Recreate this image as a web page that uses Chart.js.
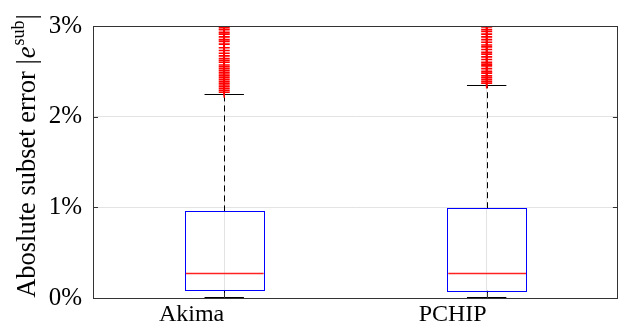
<!DOCTYPE html>
<html>
<head>
<meta charset="utf-8">
<script src="https://cdn.jsdelivr.net/npm/chart.js@4"></script>
<style>
  html, body { margin: 0; padding: 0; background: #fff; }
</style>
</head>
<body>
<canvas id="boxChart" width="625" height="324"></canvas>
<script>
// values in percent
var categories = ['Akima', 'PCHIP'];
var lowerWhisker = [0.0, 0.0];
var q1 = [0.08, 0.08];
var median = [0.28, 0.28];
var q3 = [0.955, 0.99];
var upperWhisker = [2.245, 2.345];
var outliersAkima = [2.27, 2.29, 2.31, 2.33, 2.35, 2.37, 2.39, 2.41, 2.43, 2.45, 2.47, 2.49, 2.51, 2.53,
  2.55, 2.57, 2.60, 2.62, 2.64, 2.67, 2.70, 2.73, 2.76, 2.80, 2.83, 2.85, 2.88, 2.91, 2.93, 2.96, 2.98, 3.0];
var outliersPchip = [2.37, 2.39, 2.41, 2.43, 2.45, 2.48, 2.50, 2.53, 2.56, 2.58, 2.60, 2.63, 2.66, 2.69,
  2.71, 2.74, 2.77, 2.79, 2.82, 2.85, 2.88, 2.91, 2.94, 2.96, 2.99, 3.0];
var yTicks = [0, 1, 2, 3];

var serif = 'Liberation Serif, Times New Roman, Times, serif';
var boxHalf = 0.15, capHalf = 0.075;

var outlierPoints = [];
outliersAkima.forEach(function (v) { outlierPoints.push({x: 1, y: v}); });
outliersPchip.forEach(function (v) { outlierPoints.push({x: 2, y: v}); });

var boxPlugin = {
  id: 'boxes',
  beforeDatasetsDraw: function (chart) {
    var ctx = chart.ctx, xs = chart.scales.x, ys = chart.scales.y;
    ctx.save();
    for (var i = 0; i < categories.length; i++) {
      var c = i + 1;
      var xl = xs.getPixelForValue(c - boxHalf), xr = xs.getPixelForValue(c + boxHalf);
      var xm = Math.round(xs.getPixelForValue(c)) + 0.5;
      var cl = xs.getPixelForValue(c - capHalf), cr = xs.getPixelForValue(c + capHalf);
      // whiskers
      ctx.strokeStyle = '#000';
      ctx.lineWidth = 1;
      ctx.setLineDash([6, 4]);
      ctx.beginPath();
      ctx.moveTo(xm, ys.getPixelForValue(q3[i]));
      ctx.lineTo(xm, ys.getPixelForValue(upperWhisker[i]));
      ctx.moveTo(xm, ys.getPixelForValue(q1[i]));
      ctx.lineTo(xm, ys.getPixelForValue(lowerWhisker[i]));
      ctx.stroke();
      ctx.setLineDash([]);
      var yu = Math.round(ys.getPixelForValue(upperWhisker[i])) + 0.5;
      var ylw = Math.round(ys.getPixelForValue(lowerWhisker[i])) - 0.5;
      ctx.beginPath();
      ctx.moveTo(cl, yu); ctx.lineTo(cr, yu);
      ctx.moveTo(cl, ylw); ctx.lineTo(cr, ylw);
      ctx.stroke();
      // box
      ctx.strokeStyle = '#0000ff';
      var yt = ys.getPixelForValue(q3[i]), yb = ys.getPixelForValue(q1[i]);
      ctx.strokeRect(Math.round(xl) + 0.5, Math.round(yt) + 0.5, Math.round(xr - xl), Math.round(yb - yt));
      // median
      ctx.strokeStyle = '#ff2020';
      ctx.lineWidth = 1.4;
      var ymed = Math.round(ys.getPixelForValue(median[i])) + 0.5;
      ctx.beginPath();
      ctx.moveTo(xl + 1, ymed); ctx.lineTo(xr, ymed);
      ctx.stroke();
    }
    ctx.restore();
  },
  afterDraw: function (chart) {
    var ctx = chart.ctx, a = chart.chartArea, ys = chart.scales.y, xs = chart.scales.x;
    ctx.save();
    // frame
    ctx.strokeStyle = '#333';
    ctx.lineWidth = 1;
    ctx.strokeRect(Math.round(a.left) + 0.5, Math.round(a.top) + 0.5,
      Math.round(a.right - a.left) - 1, Math.round(a.bottom - a.top));
    // inward ticks
    ctx.beginPath();
    yTicks.forEach(function (t) {
      var y = Math.round(ys.getPixelForValue(t)) + 0.5;
      ctx.moveTo(a.left, y); ctx.lineTo(a.left + 5, y);
      ctx.moveTo(a.right - 5, y); ctx.lineTo(a.right, y);
    });
    for (var c = 1; c <= categories.length; c++) {
      var x = Math.round(xs.getPixelForValue(c)) + 0.5;
      ctx.moveTo(x, a.bottom); ctx.lineTo(x, a.bottom - 5);
    }
    ctx.stroke();
    // y title with superscript
    ctx.translate(28, 156);
    ctx.rotate(-Math.PI / 2);
    ctx.fillStyle = '#000';
    ctx.textBaseline = 'middle';
    ctx.textAlign = 'left';
    var main = 'Aboslute subset error |';
    ctx.font = '26.5px ' + serif;
    var w1 = ctx.measureText(main).width;
    ctx.font = 'italic 26.5px ' + serif;
    var w2 = ctx.measureText('e').width;
    ctx.font = '18px ' + serif;
    var w3 = ctx.measureText('sub').width;
    ctx.font = '26.5px ' + serif;
    var w4 = ctx.measureText('|').width;
    var x0 = -(w1 + w2 + w3 + w4 + 3) / 2;
    ctx.fillText(main, x0, 0);
    ctx.font = 'italic 26.5px ' + serif;
    ctx.fillText('e', x0 + w1 + 1, 0);
    ctx.font = '18px ' + serif;
    ctx.fillText('sub', x0 + w1 + w2 + 2, -9);
    ctx.font = '26.5px ' + serif;
    ctx.fillText('|', x0 + w1 + w2 + w3 + 3, 0);
    ctx.restore();
  }
};

var ctx = document.getElementById('boxChart').getContext('2d');
new Chart(ctx, {
  type: 'scatter',
  data: {
    datasets: [{
      label: 'outliers',
      data: outlierPoints,
      pointStyle: 'cross',
      pointRadius: 5.5,
      borderColor: '#ff0000',
      borderWidth: 1.6,
      backgroundColor: '#ff0000'
    }]
  },
  options: {
    responsive: false,
    animation: false,
    devicePixelRatio: 1,
    layout: { padding: { top: 26, right: 1, left: 0, bottom: 0 } },
    plugins: { legend: { display: false }, tooltip: { enabled: false } },
    scales: {
      x: {
        type: 'linear',
        min: 0.5,
        max: 2.5,
        afterBuildTicks: function (s) { s.ticks = [{value: 1}, {value: 2}]; },
        afterFit: function (s) { s.height = 26; },
        grid: { color: '#e3e3e3', drawTicks: false },
        border: { display: false },
        ticks: {
          padding: 2,
          align: 'end',
          color: '#000',
          font: { family: serif, size: 24 },
          callback: function (v) { return categories[v - 1]; }
        }
      },
      y: {
        min: 0,
        max: 3,
        afterBuildTicks: function (s) { s.ticks = yTicks.map(function (v) { return {value: v}; }); },
        afterFit: function (s) { s.width = 93; },
        grid: { color: '#e3e3e3', drawTicks: false },
        border: { display: false },
        ticks: {
          padding: 11,
          color: '#000',
          font: { family: serif, size: 25 },
          callback: function (v) { return v + '%'; }
        }
      }
    }
  },
  plugins: [boxPlugin]
});
</script>
</body>
</html>
